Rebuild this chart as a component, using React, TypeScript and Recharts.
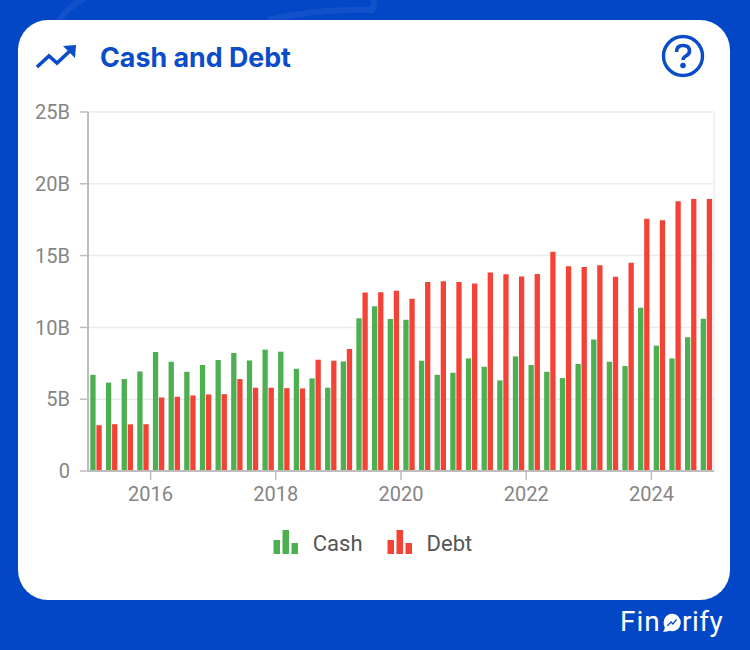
import React from "react";
import { BarChart, Bar, XAxis, YAxis, CartesianGrid, Legend, ReferenceLine } from "recharts";

const periods = [
  2015.13, 2015.38, 2015.63, 2015.88, 2016.13, 2016.38, 2016.63, 2016.88,
  2017.13, 2017.38, 2017.63, 2017.88, 2018.13, 2018.38, 2018.63, 2018.88,
  2019.13, 2019.38, 2019.63, 2019.88, 2020.13, 2020.38, 2020.63, 2020.88,
  2021.13, 2021.38, 2021.63, 2021.88, 2022.13, 2022.38, 2022.63, 2022.88,
  2023.13, 2023.38, 2023.63, 2023.88, 2024.13, 2024.38, 2024.63, 2024.88,
];
const cash = [
  6.7, 6.15, 6.4, 6.93, 8.29, 7.61, 6.91, 7.38, 7.73, 8.22,
  7.7, 8.45, 8.31, 7.12, 6.45, 5.8, 7.63, 10.64, 11.48, 10.59,
  10.54, 7.68, 6.7, 6.84, 7.84, 7.26, 6.31, 7.98, 7.38, 6.91,
  6.47, 7.45, 9.15, 7.61, 7.31, 11.36, 8.73, 7.84, 9.31, 10.61,
];
const debt = [
  3.19, 3.26, 3.25, 3.26, 5.12, 5.17, 5.26, 5.33, 5.35, 6.4,
  5.8, 5.8, 5.77, 5.75, 7.75, 7.68, 8.5, 12.43, 12.45, 12.55,
  11.99, 13.17, 13.22, 13.17, 13.06, 13.83, 13.7, 13.55, 13.71, 15.27,
  14.25, 14.2, 14.32, 13.52, 14.5, 17.57, 17.46, 18.78, 18.95, 18.95,
];
const yTicks = [0, 5, 10, 15, 20, 25];
const xTicks = [2016, 2018, 2020, 2022, 2024];
const data = periods.map((period, i) => ({ period, Cash: cash[i], Debt: debt[i] }));

const BLUE = "#0b4cc8";
const GREEN = "#4caf50";
const RED = "#f44336";

function LegendIcon({ color }: { color: string }) {
  return (
    <svg width={26} height={26} style={{ display: "block" }}>
      <rect x={0.5} y={10} width={6.5} height={14} fill={color} />
      <rect x={9.5} y={0} width={6.5} height={24} fill={color} />
      <rect x={18.5} y={13} width={6.5} height={11} fill={color} />
    </svg>
  );
}

function ChartLegend() {
  const items: [string, string, number][] = [["Cash", GREEN, 24], ["Debt", RED, 0]];
  return (
    <div style={{ display: "flex", justifyContent: "center", alignItems: "center", paddingRight: 5 }}>
      {items.map(([name, color, gap]) => (
        <div key={name} style={{ display: "flex", alignItems: "center", marginRight: gap }}>
          <LegendIcon color={color} />
          <span style={{ marginLeft: 14, font: "22px Roboto", color: "#555" }}>{name}</span>
        </div>
      ))}
    </div>
  );
}

export default function App() {
  const tickStyle = { fontFamily: "Roboto", fontSize: 20, fill: "#858585" };
  return (
    <div style={{ position: "fixed", left: 0, top: 0, width: 750, height: 650, background: "#0447c6", overflow: "hidden" }}>
      <svg width={750} height={650} style={{ position: "absolute", left: 0, top: 0 }}>
        <path d="M58 22 Q68 6 88 -4 M268 20 Q320 8 372 10 Q376 4 372 -4" fill="none" stroke="#ffffff" strokeOpacity={0.06} strokeWidth={6} />
      </svg>
      <div style={{ position: "absolute", left: 18, top: 20, width: 712, height: 580, background: "#fff", borderRadius: 30 }} />
      <svg width={44} height={30} viewBox="0 0 44 30" style={{ position: "absolute", left: 34, top: 43 }}>
        <path d="M3 24 L15 13 L23 20 L38 6" fill="none" stroke={BLUE} strokeWidth={3.6} />
        <path d="M29 3 L42 2 L41 15 Z" fill={BLUE} />
      </svg>
      <div style={{ position: "absolute", left: 100, top: 41, font: "700 26.8px Inter", color: BLUE, whiteSpace: "nowrap" }}>Cash and Debt</div>
      <svg width={44} height={44} viewBox="0 0 44 44" style={{ position: "absolute", left: 661, top: 34 }}>
        <circle cx={22} cy={22} r={19.5} fill="none" stroke={BLUE} strokeWidth={3.4} />
        <path d="M15.5 18 Q15.5 11.5 22 11.5 Q28.5 11.5 28.5 17 Q28.5 20 25 22 Q22 23.5 22 26" fill="none" stroke={BLUE} strokeWidth={3.6} />
        <circle cx={22} cy={31.5} r={2.8} fill={BLUE} />
      </svg>
      <div style={{ position: "absolute", left: 0, top: 0 }}>
        <BarChart width={750} height={650} data={data} margin={{ top: 112, right: 36, bottom: 123, left: 0 }} barSize={5.3} barGap={0.8}>
          <CartesianGrid vertical={false} stroke="#ececec" strokeWidth={1.5} />
          <ReferenceLine x={2025} stroke="#ececec" strokeWidth={1.5} />
          <XAxis
            dataKey="period"
            type="number"
            domain={[2015, 2025]}
            ticks={xTicks}
            height={30}
            tickSize={9}
            tickMargin={7}
            tick={tickStyle}
            tickLine={{ stroke: "#bdbdbd", strokeWidth: 1.5 }}
            axisLine={{ stroke: "#bdbdbd", strokeWidth: 2 }}
            allowDataOverflow
          />
          <YAxis
            width={88}
            domain={[0, 25]}
            ticks={yTicks}
            tickFormatter={(v: number) => (v === 0 ? "0" : `${v}B`)}
            tickSize={8}
            tickMargin={10}
            tick={tickStyle}
            tickLine={{ stroke: "#bdbdbd", strokeWidth: 1.5 }}
            axisLine={{ stroke: "#bdbdbd", strokeWidth: 2 }}
          />
          <Legend content={() => <ChartLegend />} verticalAlign="bottom" wrapperStyle={{ left: 0, width: 750, top: 530, bottom: "auto" }} />
          <Bar dataKey="Cash" fill={GREEN} isAnimationActive={false} />
          <Bar dataKey="Debt" fill={RED} isAnimationActive={false} />
        </BarChart>
      </div>
      <div style={{ position: "absolute", left: 620, top: 605, font: "400 28px Roboto", color: "#fff", letterSpacing: 1 }}>Fin</div>
      <svg width={22} height={22} viewBox="0 0 24 24" style={{ position: "absolute", left: 661, top: 612 }}>
        <path d="M12 2 A9.5 9.5 0 1 1 9 20.5 Q6 22 2 21.5 Q4.5 19.5 4 16 A9.5 9.5 0 0 1 12 2 Z" fill="#fff" />
        <path d="M7 15 L11 11 L13 13 L17 8" fill="none" stroke={BLUE} strokeWidth={1.6} />
      </svg>
      <div style={{ position: "absolute", left: 682, top: 605, font: "400 28px Roboto", color: "#fff", letterSpacing: 0.5 }}>rify</div>
    </div>
  );
}
